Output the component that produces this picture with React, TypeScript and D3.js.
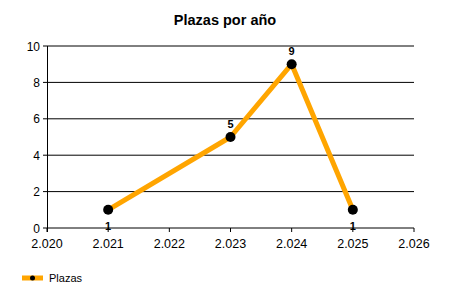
import React from "react";
import * as d3 from "d3";

const years = [2021, 2023, 2024, 2025];
const plazas = [1, 5, 9, 1];
const xTicks = [2020, 2021, 2022, 2023, 2024, 2025, 2026];
const xTickLabels = ["2.020", "2.021", "2.022", "2.023", "2.024", "2.025", "2.026"];
const yTicks = [0, 2, 4, 6, 8, 10];
const labelBelow = [true, false, false, true];
const title = "Plazas por año";
const seriesName = "Plazas";

export default function App() {
  const W = 450, H = 300;
  const x = d3.scaleLinear().domain([2020, 2026]).range([47, 414]);
  const y = d3.scaleLinear().domain([0, 10]).range([228, 46]);
  const line = d3.line<number>().x((_, i) => x(years[i])).y((d) => y(d));
  const font = "'Liberation Sans', Arial, sans-serif";
  return (
    <svg width={W} height={H} style={{ position: "absolute", left: 0, top: 0 }} fontFamily={font}>
      <rect width={W} height={H} fill="#fff" />
      <text x={225} y={25} textAnchor="middle" fontSize={14.5} fontWeight="bold">{title}</text>
      {yTicks.map((t) => (
        <g key={t}>
          <line x1={43} x2={414} y1={y(t)} y2={y(t)} stroke="#000" strokeWidth={1} />
          <text x={40} y={y(t) + 4.5} textAnchor="end" fontSize={12}>{t}</text>
        </g>
      ))}
      <line x1={47.5} x2={47.5} y1={46} y2={232} stroke="#000" strokeWidth={1} />
      {xTicks.map((t, i) => (
        <g key={t}>
          <line x1={x(t)} x2={x(t)} y1={228} y2={232} stroke="#000" strokeWidth={1} />
          <text x={x(t)} y={248} textAnchor="middle" fontSize={12.5}>{xTickLabels[i]}</text>
        </g>
      ))}
      <path d={line(plazas) || ""} fill="none" stroke="#FFA500" strokeWidth={5} strokeLinejoin="round" />
      {plazas.map((v, i) => (
        <g key={i}>
          <circle cx={x(years[i])} cy={y(v)} r={5} fill="#000" />
          <text x={x(years[i])} y={labelBelow[i] ? y(v) + 20 : y(v) - 9} textAnchor="middle" fontSize={11} fontWeight="bold">{v}</text>
        </g>
      ))}
      <line x1={22} x2={43} y1={278} y2={278} stroke="#FFA500" strokeWidth={5} />
      <circle cx={32.5} cy={278} r={2.5} fill="#000" />
      <text x={49} y={282} fontSize={11}>{seriesName}</text>
    </svg>
  );
}
